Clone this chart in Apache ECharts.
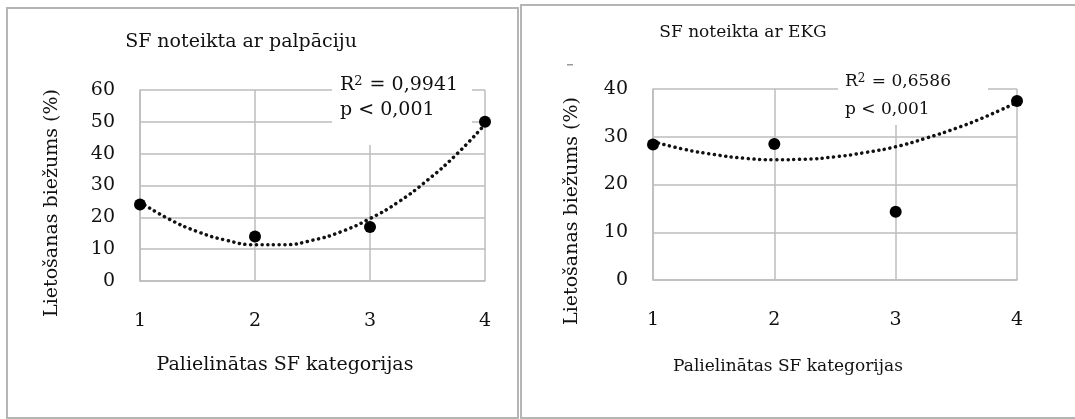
<!DOCTYPE html>
<html>
<head>
<meta charset="utf-8">
<script src="https://cdn.jsdelivr.net/npm/echarts@6/dist/echarts.min.js"></script>
<style>
  html, body { margin: 0; padding: 0; background: #fff; }
  #main { width: 1075px; height: 419px; }
</style>
</head>
<body>
<div id="main"></div>
<script>
// categories on x
var categories = [1, 2, 3, 4];

// left panel - SF noteikta ar palpāciju
var palpValues = [24, 14, 17, 50];
var palpTrendX = [1, 1.25, 1.5, 1.75, 2, 2.25, 2.5, 2.75, 3, 3.25, 3.5, 3.75, 4];
var palpTrendY = [24.8, 19.5, 15.5, 12.8, 11.4, 11.4, 12.8, 15.5, 19.6, 24.9, 31.7, 39.7, 49.2];
var palpTicks = [0, 10, 20, 30, 40, 50, 60];

// right panel - SF noteikta ar EKG
var ekgValues = [28.4, 28.5, 14.3, 37.5];
var ekgTrendX = [1, 1.25, 1.5, 1.75, 2, 2.25, 2.5, 2.75, 3, 3.25, 3.5, 3.75, 4];
var ekgTrendY = [29.0, 27.4, 26.3, 25.5, 25.2, 25.3, 25.8, 26.7, 27.9, 29.7, 31.8, 34.3, 37.2];
var ekgTicks = [0, 10, 20, 30, 40];

var FONT = 'DejaVu Serif';
var gridColor = '#bdbdbd';

function pairs(xs, ys) {
  return xs.map(function (x, i) { return [x, ys[i]]; });
}

function xAx(gi) {
  return {
    type: 'value', gridIndex: gi, min: 1, max: 4, interval: 1,
    axisLine: { lineStyle: { color: gridColor, width: 1.5 } },
    axisTick: { show: false },
    splitLine: { show: true, lineStyle: { color: gridColor, width: 1.5 } },
    axisLabel: { color: '#111', fontFamily: FONT, fontSize: 19, margin: 31 }
  };
}

function yAx(gi, ticks) {
  return {
    type: 'value', gridIndex: gi, min: ticks[0], max: ticks[ticks.length - 1], interval: 10,
    axisLine: { show: true, lineStyle: { color: gridColor, width: 1.5 } },
    axisTick: { show: false },
    splitLine: { show: true, lineStyle: { color: gridColor, width: 1.5 } },
    axisLabel: { color: '#111', fontFamily: FONT, fontSize: 19, margin: 25 }
  };
}

function label(txt, x, y, size, rot) {
  return {
    type: 'text', x: x, y: y, z: 5, rotation: rot || 0,
    style: { text: txt, font: size + 'px ' + FONT, fill: '#111', align: 'center', verticalAlign: 'middle' }
  };
}

function r2(txt, x, y, size) {
  return {
    type: 'text', x: x, y: y, z: 5,
    style: {
      text: 'R{sup|2} = ' + txt, font: size + 'px ' + FONT, fill: '#111', verticalAlign: 'middle',
      rich: { sup: { font: Math.round(size * 0.68) + 'px ' + FONT, fill: '#111', verticalAlign: 'top', padding: [0, 1, 7, 0] } }
    }
  };
}

var trendStyle = { color: '#111', width: 3.5, type: [0.1, 5.6], cap: 'round' };

var myChart = echarts.init(document.getElementById('main'));
myChart.setOption({
  animation: false,
  grid: [
    { left: 140, right: 590, top: 90, bottom: 138 },
    { left: 653, right: 58, top: 89, bottom: 139 }
  ],
  xAxis: [xAx(0), xAx(1)],
  yAxis: [yAx(0, palpTicks), yAx(1, ekgTicks)],
  series: [
    {
      type: 'line', xAxisIndex: 0, yAxisIndex: 0, smooth: true, symbol: 'none',
      data: pairs(palpTrendX, palpTrendY), lineStyle: trendStyle, z: 3
    },
    {
      type: 'scatter', xAxisIndex: 0, yAxisIndex: 0, symbolSize: 12,
      itemStyle: { color: '#000', opacity: 1 },
      data: pairs(categories, palpValues), z: 4
    },
    {
      type: 'line', xAxisIndex: 1, yAxisIndex: 1, smooth: true, symbol: 'none',
      data: pairs(ekgTrendX, ekgTrendY), lineStyle: trendStyle, z: 3
    },
    {
      type: 'scatter', xAxisIndex: 1, yAxisIndex: 1, symbolSize: 12,
      itemStyle: { color: '#000', opacity: 1 },
      data: pairs(categories, ekgValues), z: 4
    }
  ],
  graphic: [
    // panel frames
    { type: 'rect', z: 0, shape: { x: 7, y: 8, width: 511, height: 410 },
      style: { fill: 'none', stroke: '#b5b5b5', lineWidth: 2 } },
    { type: 'rect', z: 0, shape: { x: 521, y: 5, width: 570, height: 413 },
      style: { fill: 'none', stroke: '#b5b5b5', lineWidth: 2 } },
    // titles
    label('SF noteikta ar palpāciju', 241, 42, 19),
    label('SF noteikta ar EKG', 743, 33, 17),
    // axis names
    label('Palielinātas SF kategorijas', 285, 365, 19),
    label('Palielinātas SF kategorijas', 788, 367, 17),
    label('Lietošanas biežums (%)', 52, 203, 19, Math.PI / 2),
    label('Lietošanas biežums (%)', 572, 211, 19, Math.PI / 2),
    // R2 annotations
    { type: 'rect', z: 1, shape: { x: 332, y: 68, width: 140, height: 77 }, style: { fill: '#fff' } },
    r2('0,9941', 340, 85, 19),
    { type: 'text', x: 340, y: 110, z: 5,
      style: { text: 'p < 0,001', font: '19px ' + FONT, fill: '#111', verticalAlign: 'middle' } },
    { type: 'rect', z: 1, shape: { x: 838, y: 66, width: 150, height: 59 }, style: { fill: '#fff' } },
    r2('0,6586', 845, 82, 17),
    { type: 'text', x: 845, y: 110, z: 5,
      style: { text: 'p < 0,001', font: '17px ' + FONT, fill: '#111', verticalAlign: 'middle' } },
    // stray dash
    { type: 'rect', z: 1, shape: { x: 567, y: 64, width: 6, height: 1.5 }, style: { fill: '#999' } }
  ]
});
</script>
</body>
</html>
